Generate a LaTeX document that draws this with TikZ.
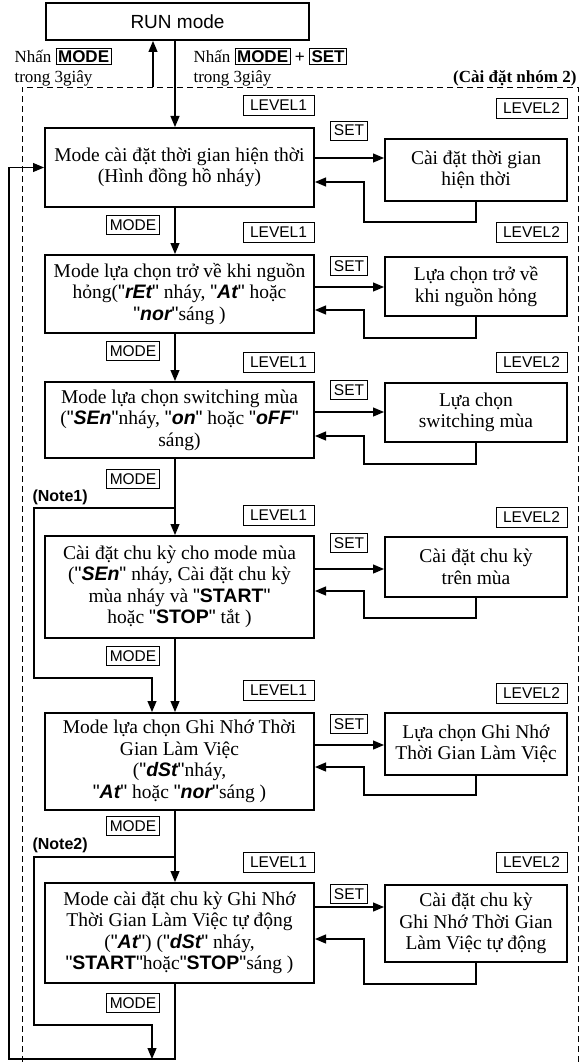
\documentclass[tikz,border=0pt]{standalone}
\usepackage{fontspec}
\setmainfont{Liberation Serif}
\setsansfont{Liberation Sans}
\newfontfamily\quotefont{Liberation Sans}
\usetikzlibrary{arrows.meta}

\newcommand{\seg}[1]{{\sffamily\bfseries\itshape #1}}
\newcommand{\kw}[1]{{\sffamily\bfseries #1}}
\newcommand{\q}{{\quotefont"}}
\newcommand{\key}[1]{{\setlength{\fboxsep}{1.5pt}\setlength{\fboxrule}{1pt}\fbox{\sffamily\bfseries\fontsize{17}{17}\selectfont #1}}}

\begin{document}
\begin{tikzpicture}[x=1pt, y=-1pt,
	every node/.style={font=\fontsize{19.5}{21.5}\selectfont},
	box/.style={draw, line width=2pt, align=center, inner sep=0pt},
	mainbox/.style={box, minimum width=269pt},
	sidebox/.style={box, minimum width=182pt},
	tag/.style={draw, line width=0.9pt, inner xsep=3.5pt, inner ysep=0pt, minimum height=19pt, font=\sffamily\fontsize{15.5}{15.5}\selectfont},
	lvl/.style={tag, minimum width=71pt, minimum height=20pt},
	link/.style={line width=1.2pt},
	arr/.style={link, -{Triangle[length=11pt,width=9pt]}},
	note/.style={anchor=west, font=\sffamily\bfseries\fontsize{16}{16}\selectfont}]
	\useasboundingbox (0,0) rectangle (580,1062);
	\coordinate (spine) at (175,0);
	\coordinate (up) at (153,87);
	\coordinate (bot) at (9,1059);
	\coordinate (n1) at (34,508);
	\coordinate (n1e) at (152,678);
	\coordinate (n2) at (34,857);
	\coordinate (n2e) at (152,1025);
	\draw[line width=0.9pt, dash pattern=on 6pt off 4pt] (22,1062) -- (22,87) -- (578,87) -- (578,1062);

	\node[box, minimum width=263pt, minimum height=37pt, font=\sffamily\fontsize{19}{19}\selectfont] (run) at (177.5,21.5) {RUN mode};
	\node[anchor=west, align=left, font=\fontsize{17}{20}\selectfont] (pressA) at (11,67) {Nhấn \key{MODE}\\trong 3giây};
	\node[anchor=west, align=left, font=\fontsize{17}{20}\selectfont] (pressB) at (190,67) {Nhấn \key{MODE} {\sffamily +} \key{SET}\\trong 3giây};
	\node[anchor=east, font=\bfseries\fontsize{17}{17}\selectfont] (group) at (580,78) {(Cài đặt nhóm 2)};

	\node[mainbox, minimum height=79pt] (m1) at (179.5,167.5) {Mode cài đặt thời gian hiện thời\\(Hình đồng hồ nháy)};
	\node[sidebox, minimum height=62pt] (s1) at (476,170) {Cài đặt thời gian\\hiện thời};
	\node[lvl] (lvA1) at (278.5,105) {LEVEL1};
	\node[lvl] (lvB1) at (531.5,108) {LEVEL2};
	\node[tag] (set1) at (349,130.5) {SET};
	\node[tag] (mode1) at (133,225) {MODE};

	\node[mainbox, minimum height=78pt] (m2) at (179.5,294) {Mode lựa chọn trở về khi nguồn\\hỏng(\q\seg{rEt}\q{} nháy, \q\seg{At}\q{} hoặc\\\q\seg{nor}\q{}sáng )};
	\node[sidebox, minimum height=59pt] (s2) at (476,286.5) {Lựa chọn trở về\\khi nguồn hỏng};
	\node[lvl] (lvA2) at (278.5,232) {LEVEL1};
	\node[lvl] (lvB2) at (531.5,232) {LEVEL2};
	\node[tag] (set2) at (349,266) {SET};
	\node[tag] (mode2) at (133,351) {MODE};

	\node[mainbox, minimum height=76pt] (m3) at (179.5,420) {Mode lựa chọn switching mùa\\(\q\seg{SEn}\q{}nháy, \q\seg{on}\q{} hoặc \q\seg{oFF}\q\\sáng)};
	\node[sidebox, minimum height=59pt] (s3) at (476,412.5) {Lựa chọn\\switching mùa};
	\node[lvl] (lvA3) at (278.5,362.5) {LEVEL1};
	\node[lvl] (lvB3) at (531.5,362.5) {LEVEL2};
	\node[tag] (set3) at (349,390) {SET};
	\node[tag] (mode3) at (133,479) {MODE};
	\node[note] (note1) at (29,497) {(Note1)};

	\node[mainbox, minimum height=102pt] (m4) at (179.5,587) {Cài đặt chu kỳ cho mode mùa\\(\q\seg{SEn}\q{} nháy, Cài đặt chu kỳ\\mùa nháy và \q\kw{START}\q\\hoặc \q\kw{STOP}\q{} tắt )};
	\node[sidebox, minimum height=60pt] (s4) at (476,567) {Cài đặt chu kỳ\\trên mùa};
	\node[lvl] (lvA4) at (278.5,515) {LEVEL1};
	\node[lvl] (lvB4) at (531.5,517) {LEVEL2};
	\node[tag] (set4) at (349,543) {SET};
	\node[tag] (mode4) at (133,656) {MODE};

	\node[mainbox, minimum height=97pt] (m5) at (179.5,761.5) {Mode lựa chọn Ghi Nhớ Thời\\Gian Làm Việc\\(\q\seg{dSt}\q{}nháy,\\\q\seg{At}\q{} hoặc \q\seg{nor}\q{}sáng )};
	\node[sidebox, minimum height=62pt] (s5) at (476,744) {Lựa chọn Ghi Nhớ\\Thời Gian Làm Việc};
	\node[lvl] (lvA5) at (278.5,690) {LEVEL1};
	\node[lvl] (lvB5) at (531.5,693) {LEVEL2};
	\node[tag] (set5) at (349,724) {SET};
	\node[tag] (mode5) at (133,826) {MODE};
	\node[note] (note2) at (29,845) {(Note2)};

	\node[mainbox, minimum height=100pt] (m6) at (179.5,933) {Mode cài đặt chu kỳ Ghi Nhớ\\Thời Gian Làm Việc tự động\\(\q\seg{At}\q) (\q\seg{dSt}\q{} nháy,\\\q\kw{START}\q{}hoặc\q\kw{STOP}\q{}sáng )};
	\node[sidebox, minimum height=77pt] (s6) at (476,923.5) {Cài đặt chu kỳ\\Ghi Nhớ Thời Gian\\Làm Việc tự động};
	\node[lvl] (lvA6) at (278.5,862) {LEVEL1};
	\node[lvl] (lvB6) at (531.5,862) {LEVEL2};
	\node[tag] (set6) at (349,894) {SET};
	\node[tag] (mode6) at (133,1003) {MODE};

	\draw[arr] (up) -- (up |- run.south);
	\draw[arr] (run.south -| spine) -- (m1.north -| spine);
	\draw[arr] (m1.south -| spine) -- (m2.north -| spine);
	\draw[arr] (m2.south -| spine) -- (m3.north -| spine);
	\draw[arr] (m3.south -| spine) -- (m4.north -| spine);
	\draw[arr] (m4.south -| spine) -- (m5.north -| spine);
	\draw[arr] (m5.south -| spine) -- (m6.north -| spine);
	\draw[arr] (n1 -| spine) -- (n1) |- (n1e) -- (n1e |- m5.north);
	\draw[arr] (n2 -| spine) -- (n2) |- (n2e) -- (n2e |- bot);
	\draw[arr] (m6.south -| spine) |- (bot) |- (m1.west);

	\draw[arr] (m1.east |- 0,158) -- (s1.west |- 0,158);
	\draw[arr] (s1.south) |- (364,222) |- (m1.east |- 0,182);
	\draw[arr] (m2.east |- 0,287) -- (s2.west |- 0,287);
	\draw[arr] (s2.south) |- (364,338) |- (m2.east |- 0,310);
	\draw[arr] (m3.east |- 0,412) -- (s3.west |- 0,412);
	\draw[arr] (s3.south) |- (364,464) |- (m3.east |- 0,436);
	\draw[arr] (m4.east |- 0,569) -- (s4.west |- 0,569);
	\draw[arr] (s4.south) |- (364,618) |- (m4.east |- 0,591);
	\draw[arr] (m5.east |- 0,745) -- (s5.west |- 0,745);
	\draw[arr] (s5.south) |- (364,795) |- (m5.east |- 0,767);
	\draw[arr] (m6.east |- 0,907) -- (s6.west |- 0,907);
	\draw[arr] (s6.south) |- (364,984) |- (m6.east |- 0,939);
\end{tikzpicture}
\end{document}
